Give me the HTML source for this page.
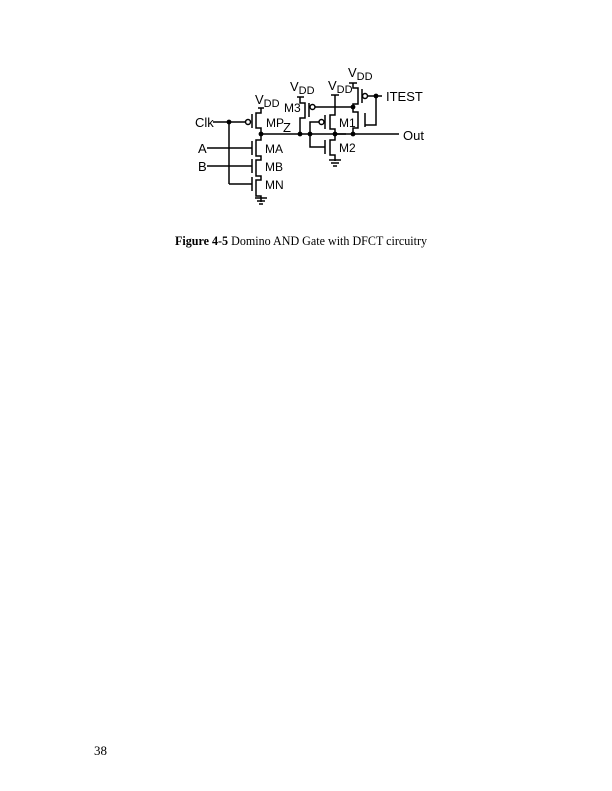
<!DOCTYPE html>
<html><head><meta charset="utf-8"><style>
html,body{margin:0;padding:0;background:#fff;}
svg{display:block;}
</style></head><body>
<svg width="612" height="791" viewBox="0 0 612 791" xmlns="http://www.w3.org/2000/svg">
<rect width="612" height="791" fill="#fff"/>
<g stroke="#000" stroke-width="1.5" fill="none">
<path d="M258 108 h6 M261 108 v5 h-5 v15 h5 v6"/>
<path d="M252 114 v14"/>
<circle cx="248" cy="122" r="2.5"/>
<path d="M213 122 h32"/>
<path d="M229 122 v62"/>
<path d="M261 134 v6 h-5 v16 h5 v4 h-5 v16 h5 v4 h-5 v16 h5 v6"/>
<path d="M252 141 v14 M252 159 v14 M252 177 v14"/>
<path d="M207 148 h45 M207 166 h45 M229 184 h23"/>
<path d="M255 198 h12 M257 201 h8 M259 204 h4"/>
<path d="M261 134 h85"/>
<path d="M297 97 h7 M300 97 v6 h5 v15 h-5 v16"/>
<path d="M309 103 v14"/>
<circle cx="312.5" cy="107" r="2.5"/>
<path d="M315 107 h38"/>
<path d="M310 134 v-12 h9"/>
<circle cx="321.5" cy="122" r="2.5"/>
<path d="M325 115 v14"/>
<path d="M310 134 v13 h15"/>
<path d="M325 140 v14"/>
<path d="M331 95 h8 M335 95 v20 h-5 v14 h5 v6 v5 h-5 v15 h5 v6"/>
<path d="M329 160 h12 M331 163 h8 M333 166 h4"/>
<path d="M335 134 h64"/>
<path d="M349 83 h8 M353 83 v5 h5 v16 h-5 v8 h5 v16 h-5 v6"/>
<path d="M362 89 v14"/>
<circle cx="365" cy="96" r="2.5"/>
<path d="M368 96 h14"/>
<path d="M376 96 v29 h-11"/>
<path d="M365 113 v14"/>
</g>
<g fill="#000">
<circle cx="229" cy="122" r="2.4"/>
<circle cx="261" cy="134" r="2.4"/>
<circle cx="300" cy="134" r="2.4"/>
<circle cx="310" cy="134" r="2.4"/>
<circle cx="335" cy="134" r="2.4"/>
<circle cx="353" cy="134" r="2.4"/>
<circle cx="353" cy="107" r="2.4"/>
<circle cx="376" cy="96" r="2.4"/>
</g>
<g font-family="Liberation Sans, sans-serif" font-size="13" fill="#000">
<text x="195" y="127">Clk</text>
<text x="198" y="153">A</text>
<text x="198" y="171">B</text>
<text x="255" y="104">V<tspan font-size="11" dy="3">DD</tspan></text>
<text x="266" y="127" font-size="12">MP</text>
<text x="283" y="132">Z</text>
<text x="265" y="153" font-size="12">MA</text>
<text x="265" y="171" font-size="12">MB</text>
<text x="265" y="189" font-size="12">MN</text>
<text x="290" y="91">V<tspan font-size="11" dy="3">DD</tspan></text>
<text x="284" y="112" font-size="12">M3</text>
<text x="328" y="90">V<tspan font-size="11" dy="3">DD</tspan></text>
<text x="339" y="127" font-size="12">M1</text>
<text x="339" y="152" font-size="12">M2</text>
<text x="348" y="77">V<tspan font-size="11" dy="3">DD</tspan></text>
<text x="386" y="101">ITEST</text>
<text x="403" y="140">Out</text>
</g>
<text x="175" y="245" font-family="Liberation Serif, serif" font-size="12.5" fill="#000" textLength="252" lengthAdjust="spacingAndGlyphs"><tspan font-weight="bold">Figure 4-5</tspan>  Domino AND Gate with DFCT circuitry</text>
<text x="94" y="755" font-family="Liberation Serif, serif" font-size="13" fill="#000">38</text>
</svg>
</body></html>
